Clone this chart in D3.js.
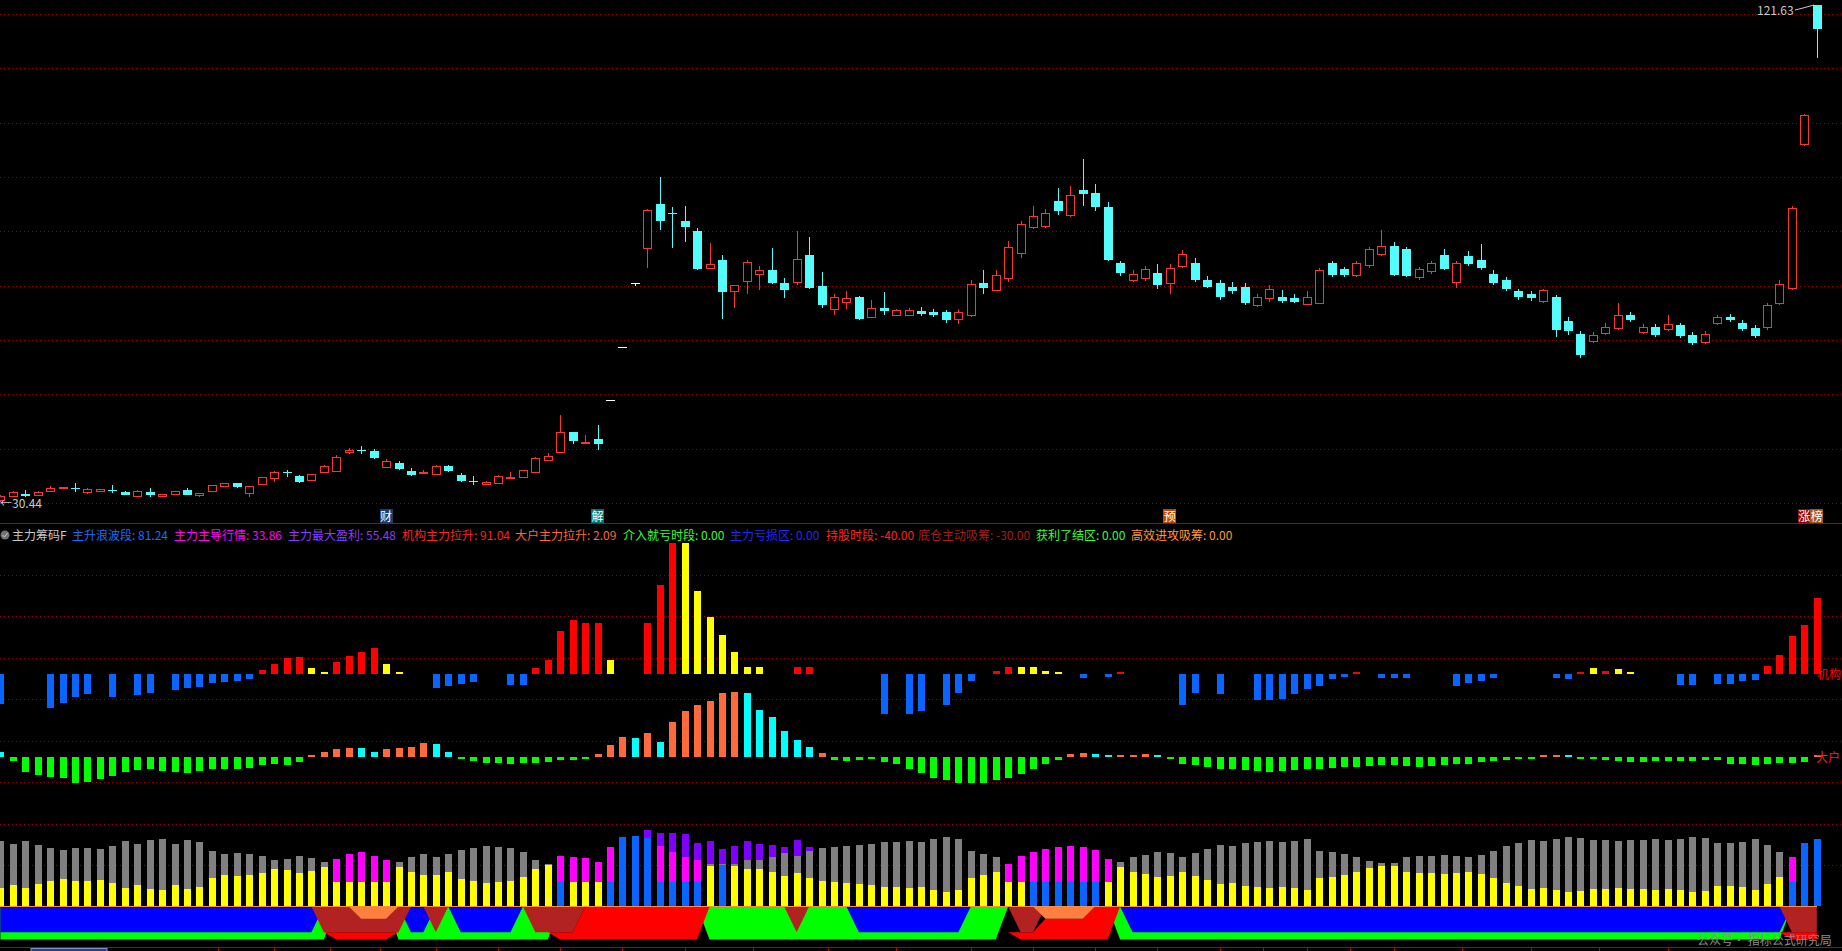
<!DOCTYPE html>
<html>
<head>
<meta charset="utf-8">
<title>主力筹码F</title>
<script src="https://cdn.jsdelivr.net/npm/d3@7.9.0/dist/d3.min.js"></script>
<style>
  html, body { margin: 0; padding: 0; background: #000; overflow: hidden; }
  svg { display: block; font-family: "Noto Sans CJK SC", "Noto Sans", sans-serif; }
</style>
</head>
<body>
<svg id="chart" width="1842" height="951"></svg>
<script>
// ---- price candles (147 bars) ----
const opens = [
  30.80,31.55,31.90,31.72,32.45,33.00,33.00,32.27,32.51,32.69,
  32.32,31.59,32.32,31.48,31.85,32.60,31.59,32.32,33.24,33.86,
  32.03,33.61,34.97,35.88,35.26,34.47,35.99,36.21,39.60,39.97,
  39.79,37.04,37.59,36.21,35.94,35.68,37.00,35.39,34.23,33.86,
  33.98,34.84,35.08,35.99,38.19,39.66,43.28,41.26,42.00,49.10,
  58.82,70.57,76.92,85.12,83.41,82.00,80.16,73.24,74.84,69.10,
  70.86,72.14,73.00,70.62,70.86,75.76,70.07,65.90,67.00,68.05,
  64.25,66.03,64.80,64.78,65.43,65.32,65.21,63.92,64.78,70.60,
  69.31,71.68,75.99,80.95,81.16,85.69,83.10,87.63,87.20,84.61,
  74.26,71.25,71.46,72.54,70.60,73.83,74.26,71.25,70.60,69.95,
  69.95,66.50,67.80,68.01,67.80,66.72,66.93,74.26,73.19,72.11,
  73.83,75.99,77.50,76.85,71.68,72.76,75.77,70.82,75.56,74.91,
  72.33,71.25,69.09,68.66,67.37,68.01,63.70,61.33,60.04,61.55,
  62.41,64.78,61.76,62.62,62.19,62.84,61.11,59.82,63.27,64.35,
  63.27,62.41,62.41,66.93,69.74,96.04,121.63];
const highs = [
  31.72,32.45,32.60,32.45,33.42,33.28,33.92,33.00,32.91,33.55,
  32.45,32.60,32.95,31.96,32.54,32.95,32.08,33.64,34.01,33.92,
  33.46,35.11,36.21,36.40,35.39,35.66,37.22,39.06,40.34,40.71,
  40.16,38.32,37.96,36.67,36.30,37.31,37.22,35.75,35.20,34.38,
  35.39,35.94,36.40,38.69,39.42,46.40,43.37,42.73,44.56,49.10,
  58.82,70.57,84.14,90.07,84.57,84.75,80.71,77.90,75.70,70.25,
  74.79,73.74,77.04,71.54,80.16,79.06,72.64,68.60,69.15,68.23,
  67.50,68.97,65.85,66.07,66.29,65.86,65.64,65.86,71.25,72.97,
  72.97,78.36,82.02,84.83,84.18,88.06,88.49,93.45,88.71,85.47,
  74.70,72.97,73.83,74.05,74.05,76.64,75.13,71.89,71.25,70.82,
  70.60,68.66,70.17,69.31,68.66,69.09,73.40,74.70,73.62,74.70,
  77.28,80.30,78.14,77.28,73.62,74.70,76.85,74.70,76.42,77.71,
  72.97,71.68,69.52,69.09,69.52,68.44,64.35,61.76,61.55,63.27,
  66.93,65.21,63.05,63.05,64.78,63.27,61.55,61.76,64.78,64.99,
  63.92,62.84,66.93,71.25,84.83,101.64,121.63];
const lows = [
  30.44,31.35,31.35,31.55,32.21,32.91,32.32,31.85,32.45,32.03,
  31.66,31.55,31.41,31.41,31.77,31.72,31.29,32.27,33.19,33.09,
  31.29,33.55,34.10,34.97,34.01,34.38,35.94,36.12,39.24,39.24,
  38.32,36.86,36.30,35.20,35.75,35.57,35.94,34.10,33.55,33.73,
  33.92,34.66,34.93,35.75,38.01,39.60,41.13,41.08,40.03,49.10,
  58.82,70.13,73.43,80.35,77.10,78.20,73.00,73.24,64.01,66.03,
  68.60,69.33,70.53,67.87,70.25,69.61,66.09,64.75,65.85,63.83,
  64.25,64.75,64.57,64.56,64.56,64.35,63.27,63.05,64.35,68.66,
  69.09,70.82,75.13,80.52,80.73,83.10,82.67,84.83,83.75,74.70,
  71.89,70.82,71.03,69.52,68.66,73.40,70.82,69.74,67.58,68.66,
  66.50,66.29,67.15,66.93,66.93,66.50,66.72,71.68,71.68,71.68,
  73.40,75.56,71.89,71.68,71.25,72.33,72.97,69.74,73.83,72.97,
  70.17,69.09,67.58,67.37,66.93,60.68,61.11,56.80,59.61,61.11,
  61.98,63.49,61.33,60.68,61.76,60.47,59.17,59.39,62.84,63.49,
  61.76,60.47,61.98,66.50,69.31,95.82,111.96];
const closes = [
  31.55,32.27,31.55,32.27,33.06,33.13,32.89,32.82,32.82,32.54,
  31.77,32.51,31.77,31.90,32.45,31.77,32.03,33.50,33.86,33.13,
  33.37,34.97,35.99,35.70,34.16,35.51,37.04,38.70,39.97,39.79,
  38.50,38.05,36.49,35.39,36.03,37.13,36.07,34.28,34.10,34.16,
  35.20,35.08,36.30,38.50,38.87,43.28,41.63,41.53,41.08,49.10,
  58.82,70.57,83.96,82.00,83.23,80.95,73.19,74.05,68.97,70.20,
  74.42,72.95,70.62,69.33,75.02,69.70,66.58,68.05,67.81,64.01,
  65.98,65.54,65.67,65.64,65.00,64.78,63.92,65.21,70.38,69.74,
  72.11,77.28,81.38,82.89,83.53,83.75,86.77,86.98,84.61,74.91,
  72.54,72.33,73.19,70.17,73.40,75.99,71.25,69.95,68.01,69.09,
  66.93,68.01,69.52,67.37,67.15,68.01,72.97,72.11,72.11,74.26,
  76.85,77.50,72.11,71.89,73.19,74.26,73.19,74.26,74.05,73.40,
  70.60,69.52,68.01,67.80,69.31,61.98,61.76,57.45,61.11,62.62,
  64.78,63.92,62.62,61.11,63.05,60.90,59.61,61.33,64.35,63.92,
  62.19,60.90,66.50,70.38,84.40,101.42,117.23];

// ---- 机构主力拉升 (bars round 0) : B = below zero, R / Y = up colours ----
const jgVals = [
  -36.1,0,0,0,-41.0,-34.9,-27.7,-24.1,0,-27.7,
  0,-25.3,-22.9,0,-19.3,-16.9,-15.7,-10.8,-9.6,-8.4,
  -6.0,4.8,12.0,19.3,20.5,7.2,2.4,14.5,21.7,26.5,
  31.3,12.0,2.4,0,0,-16.9,-14.5,-12.0,-9.6,0,
  0,-13,-12.7,7.1,17,52,65,61,61,17,
  0,0,61,107.5,158,158,100,69,47,27,
  8.5,8.5,0,0,8.5,8.5,0,0,0,0,
  0,-48,0,-48,-45,0,-37,-23,-8,0,
  4,8,8,8,4,2,0,-5,0,-4,
  2,0,0,0,0,-37,-22.6,0,-24,0,
  0,-31,-31,-30,-24,-18,-14,-6,-4,2,
  0,-5,-5,-5,0,0,0,-14,-11,-8,
  -5,0,0,0,0,-5,-6,3,7,4,
  6,3,0,0,0,-13,-13,0,-12,-12,
  -8.4,-7.2,9.6,22.9,45.8,59,91.04];
const jgKind =
  "B---BBBB-B" + "-BB-BBBBBB" + "BRRRRYYRRR" + "RYY--BBBB-" + "-BBRRRRRRY" +
  "--RRRYYYYY" + "YY--RR----" + "-B-BB-BBB-" + "RRYYYY-B-B" + "R----BB-B-" +
  "-BBBBBBBBR" + "-BBB---BBB" + "B----BBRYR" + "YY---BB-BB" + "BBRRRRR";

// ---- 大户主力拉升 (bars round -100) : G down, O / C up ----
const dhVals = [
  6.0,-4.8,-18.1,-21.7,-24.1,-25.3,-31.3,-30.1,-26.5,-22.9,
  -18.1,-15.7,-14.5,-16.9,-18.1,-19.3,-16.9,-14.5,-14.5,-14.5,
  -13.3,-9.6,-8.4,-9.6,-6.0,2.4,6.0,9.6,10.8,10.8,
  6.0,9.6,10.8,12.0,16.9,15.7,6.0,-2.4,-4.8,-7.2,
  -7.2,-8,-7,-7,-6,-4,-4,-3,3.4,14.7,
  24.6,23.2,28.6,17.5,41.6,55.7,62.8,67.1,77,78.4,
  77,57.2,48.7,31.7,20.4,11.9,4.8,-4.2,-5,-4,
  -3,-6,-8,-14,-19,-25,-28,-31,-31,-31,
  -28,-25,-20,-14,-8,-4,4,5,4,3,
  2,3,4,2,-3,-8,-10,-12,-14,-15,
  -16,-17,-18,-17,-16,-15,-14,-13,-12,-12,
  -11,-10,-10,-11,-12,-11,-10,-9,-8,-6,
  -5,-4,-3,-2,2,3,2,-2,-3,-4,
  -5,-6,-6,-5,-5,-5,-5,-3.6,-4.0,-8.4,
  -8.4,-9.6,-8.4,-7.2,-7.2,-6.0,2.09];
const dhKind =
  "CGGGGGGGGG" + "GGGGGGGGGG" + "GGGGGOOOOC" + "COOOOCCGGG" + "GGGGGGGGOO" +
  "OCOCOOOOOO" + "CCCCCCOGGG" + "GGGGGGGGGG" + "GGGGGGOOCC" + "OOOCGGGGGG" +
  "GGGGGGGGGG" + "GGGGGGGGGG" + "GGGGOOCGGG" + "GGGGGGGGGG" + "GGGGGGO";

// ---- stacked chip bars (round -280) ----
const stkBase = [
  21.7,25.3,21.7,26.5,30.1,32.5,30.1,30.1,31.3,27.7,
  21.7,25.3,20.5,19.3,25.3,20.5,22.9,33.7,37.3,36.1,
  37.3,39.8,44.6,43.4,39.8,42.2,47.0,28.9,28.9,28.9,
  28.9,28.9,47.0,41.0,37.3,37.3,41.0,32.5,30.1,27.7,
  28.9,30.1,34.9,44.6,49.4,28.9,28.9,28.9,28.9,28.9,
  83.1,84.3,82.3,28.9,28.9,28.9,28.9,48.2,49.4,48.2,
  44.6,44.6,41.0,36.1,39.8,33.7,30.1,28.9,27.7,26.5,
  25.3,22.9,22.9,21.7,22.9,19.3,16.9,19.3,33.7,37.3,
  41.0,28.9,28.9,28.9,28.9,28.9,28.9,28.9,28.9,28.9,
  47.0,41.0,38.6,34.9,36.1,41.0,36.1,31.3,26.5,27.7,
  24.1,22.9,21.7,22.9,21.7,19.3,33.7,34.9,37.3,41.0,
  45.8,48.2,48.2,41.0,39.8,39.8,38.6,39.8,41.0,38.6,
  33.7,27.7,24.1,20.5,21.7,19.3,16.9,18.1,20.5,20.5,
  21.7,20.5,20.5,19.3,20.5,19.3,16.9,18.1,24.1,24.1,
  22.9,19.3,26.5,34.9,28.9,75.9,81.24];
const stkBaseKind =
  "YYYYYYYYYY" + "YYYYYYYYYY" + "YYYYYYYYYY" + "YYYYYYYYYY" + "YYYYYBYYYB" +
  "BBBBBBBYBY" + "YYYYYYYYYY" + "YYYYYYYYYY" + "YYYBBBBBBY" + "YYYYYYYYYY" +
  "YYYYYYYYYY" + "YYYYYYYYYY" + "YYYYYYYYYY" + "YYYYYYYYYY" + "YYYYBBB";
const stkMid = [
  78.3,74.7,78.3,73.5,69.9,67.5,69.9,69.9,68.7,72.3,
  78.3,74.7,79.5,80.7,74.7,79.5,77.1,66.3,62.7,63.9,
  62.7,60.2,55.4,56.6,60.2,57.8,53.0,56.6,62.7,65.1,
  60.2,55.4,53.0,59.0,62.7,59.0,62.7,67.5,69.9,72.3,
  71.1,69.9,65.1,55.4,50.6,60.2,59.0,57.8,53.0,71.1,
  0,0,0,72.3,65.1,59.0,55.4,51.4,50.6,51.4,
  55.4,55.4,59.0,63.9,60.2,66.3,69.9,71.1,72.3,73.5,
  74.7,77.1,77.1,78.3,77.1,80.7,83.1,80.7,66.3,62.7,
  59.0,50.6,60.2,65.1,68.7,71.1,72.3,71.1,67.5,56.6,
  53.0,59.0,61.4,65.1,63.9,59.0,63.9,68.7,73.5,72.3,
  75.9,77.1,78.3,77.1,78.3,80.7,66.3,65.1,62.7,59.0,
  54.2,51.8,51.8,59.0,60.2,60.2,61.4,60.2,59.0,61.4,
  66.3,72.3,75.9,79.5,78.3,80.7,83.1,81.9,79.5,79.5,
  78.3,79.5,79.5,80.7,79.5,80.7,83.1,81.9,75.9,75.9,
  77.1,80.7,73.5,65.1,59.0,0,0];
const stkMidKind =
  "GGGGGGGGGG" + "GGGGGGGGGG" + "GGGGGGGMMM" + "MMGGGGGGGG" + "GGGGGMMMMM" +
  "---MMMMGGG" + "GGGGGGGGGG" + "GGGGGGGGGG" + "GMMMMMMMMM" + "GGGGGGGGGG" +
  "GGGGGGGGGG" + "GGGGGGGGGG" + "GGGGGGGGGG" + "GGGGGGGGGG" + "GGGGM--";
const stkPurple = [[52,91.6],[53,88.0],[54,88.0],[55,86.7],[56,75.9],[57,78.3],[58,69.5],
  [59,72.3],[60,78.3],[61,75.5],[62,73.5],[63,71.1],[64,79.5],[65,71.1]];

// ---- state band : upper zone / lower zone per bar ----
// B blue, K brown, P orange over brown, Q orange over red, R red, G green, - none
const bandTop =
  "BBBBBBBBBB" + "BBBBBBBBBB" + "BBBBBBKKKP" + "PPKBBKGBBB" + "BBGKKKKRRR" +
  "RRRRRRRGGG" + "GGGGKGGGGB" + "BBBBBBBBGG" + "G-KKQQQQRR" + "GBBBBBBBBB" +
  "BBBBBBBBBB" + "BBBBBBBBBB" + "BBBBBBBBBB" + "BBBBBBBBBB" + "BBBBKKK";
const bandBot =
  "GGGGGGGGGG" + "GGGGGGGGGG" + "GGGGGGGRRR" + "RRGGGGGGGG" + "GGGGGRRRRR" +
  "RRRRRRRGGG" + "GGGGGGGGGG" + "GGGGGGGGGG" + "G-RRRRRRRR" + "GGGGGGGGGG" +
  "GGGGGGGGGG" + "GGGGGGGGGG" + "GGGGGGGGGG" + "GGGGGGGGGG" + "GGGGRRR";

// ---- markers under the candles ----
const markers = [
  {i: 31, t: '财', bg: '#1b3c70'},
  {i: 48, t: '解', bg: '#007575'},
  {i: 94, t: '预', bg: '#b8480c'},
  {i: 145, t: '涨', bg: '#8a0a0a'},
  {i: 146, t: '榜', bg: '#a65418'}];

// ---- legend ----
const legendNames = ['主力筹码F','主升浪波段','主力主导行情','主力最大盈利','机构主力拉升','大户主力拉升',
  '介入就亏时段','主力亏损区','持股时段','底仓主动吸筹','获利了结区','高效进攻吸筹'];
const legendValues = [null,'81.24','33.86','55.48','91.04','2.09','0.00','0.00','-40.00','-30.00','0.00','0.00'];
const legendColors = ['#c8c8c8','#1a6cff','#ff00ff','#8a3cff','#ff2020','#ff6633',
  '#33ff33','#2424ff','#ff2020','#a81c1c','#33ff33','#ff9933'];
const legendX = [12,72,174,288,402,515,623,730,826,918,1036,1131];

// bottom axis ticks, in bar units
const axisTicks = [2.5,8.5,17.5,22,26.5,30.5,35,40,45,50,55,60.5,66.5,72,78,83,88,93,98,101.5,105,108.5,112,117.5,123,128.5,134];

// ---- setup ----
const W = 1842, H = 951, N = opens.length;
const svg = d3.select('#chart');
svg.append('rect').attr('width', W).attr('height', H).attr('fill', '#000');

const x = d3.scaleLinear().domain([0, N - 1]).range([0.4, 1816.8]);
const yP = d3.scaleLinear().domain([30.44, 121.63]).range([502, 5]);
const yL = d3.scaleLinear().domain([0, 100]).range([674, 591]);
const px = i => Math.round(x(i));

// grid
const grid = svg.append('g').attr('stroke', '#9a0000').attr('stroke-dasharray', '1,3')
  .attr('shape-rendering', 'crispEdges');
d3.range(10).forEach(k => {
  const y = Math.round(14 + k * 54.33) + 0.5;
  grid.append('line').attr('x1', 0).attr('x2', W).attr('y1', y).attr('y2', y);
});
d3.range(8).forEach(k => {
  const y = Math.round(575 + k * 41.47) + 0.5;
  grid.append('line').attr('x1', 0).attr('x2', W).attr('y1', y).attr('y2', y);
});

// separators
svg.append('line').attr('x1', 0).attr('x2', W).attr('y1', 523.5).attr('y2', 523.5)
  .attr('stroke', '#c00000').attr('shape-rendering', 'crispEdges');
svg.append('line').attr('x1', 0).attr('x2', W).attr('y1', 947.5).attr('y2', 947.5)
  .attr('stroke', '#c00000').attr('shape-rendering', 'crispEdges');
axisTicks.forEach(t => {
  const xx = Math.round(x(t)) + 0.5;
  svg.append('line').attr('x1', xx).attr('x2', xx).attr('y1', 947).attr('y2', 951)
    .attr('stroke', '#c00000').attr('shape-rendering', 'crispEdges');
});
svg.append('rect').attr('x', 31).attr('y', 948.5).attr('width', 76).attr('height', 6)
  .attr('fill', '#24408a').attr('stroke', '#8090c0');

// ---- candles ----
const UP = '#ff3232', DN = '#54fcfc', FLAT = '#ffffff';
const cg = svg.append('g').attr('shape-rendering', 'crispEdges');
d3.range(N).forEach(i => {
  const o = opens[i], c = closes[i];
  const col = c > o ? UP : c < o ? DN : FLAT;
  const cx = px(i) + 0.5;
  cg.append('line').attr('x1', cx).attr('x2', cx)
    .attr('y1', yP(highs[i])).attr('y2', yP(lows[i])).attr('stroke', col);
  const top = yP(Math.max(o, c)), bot = yP(Math.min(o, c));
  if (c > o) {
    cg.append('rect').attr('x', cx - 4).attr('y', Math.round(top) + 0.5).attr('width', 8)
      .attr('height', Math.max(1, Math.round(bot - top))).attr('fill', '#000').attr('stroke', col);
  } else if (c < o) {
    cg.append('rect').attr('x', cx - 4.5).attr('y', top).attr('width', 9)
      .attr('height', Math.max(1, bot - top)).attr('fill', col);
  } else {
    cg.append('line').attr('x1', cx - 4.5).attr('x2', cx + 4.5)
      .attr('y1', Math.round(top) + 0.5).attr('y2', Math.round(top) + 0.5).attr('stroke', col);
  }
});

// price extremes
svg.append('text').attr('x', 1757).attr('y', 15).attr('fill', '#c8c8c8')
  .attr('font-size', 12).text(d3.max(highs).toFixed(2));
svg.append('polyline').attr('points', `1795,10 1803,8 ${px(N - 1) - 3},${yP(d3.max(highs))}`)
  .attr('fill', 'none').attr('stroke', '#c8c8c8');
svg.append('text').attr('x', 0).attr('y', 507.5).attr('fill', '#c8c8c8')
  .attr('font-size', 12).text('←' + d3.min(lows).toFixed(2));

// markers
markers.forEach(m => {
  const cx = x(m.i);
  svg.append('rect').attr('x', Math.round(cx - 6.5)).attr('y', 509).attr('width', 13).attr('height', 14)
    .attr('fill', m.bg);
  svg.append('text').attr('x', cx).attr('y', 520.5).attr('text-anchor', 'middle')
    .attr('fill', '#ffffff').attr('font-size', 12).text(m.t);
});

// ---- legend ----
svg.append('circle').attr('cx', 5).attr('cy', 535).attr('r', 4.5).attr('fill', '#707070');
svg.append('path').attr('d', 'M2.5,535 L4.5,537 L7.5,533').attr('fill', 'none').attr('stroke', '#d0d0d0');
legendNames.forEach((n, k) => {
  svg.append('text').attr('x', legendX[k]).attr('y', 539.5).attr('font-size', 12)
    .attr('fill', legendColors[k]).text(legendValues[k] === null ? n : n + ': ' + legendValues[k]);
});

// ---- lower bars ----
const barW = 7;
const lg = svg.append('g').attr('shape-rendering', 'crispEdges');
function vbar(i, v0, v1, col) {
  const a = yL(v0), b = yL(v1);
  lg.append('rect').attr('x', px(i) - 3).attr('y', Math.min(a, b)).attr('width', barW)
    .attr('height', Math.max(1, Math.abs(a - b))).attr('fill', col);
}
const jgCol = {R: '#ff0000', Y: '#ffff00'};
jgVals.forEach((v, i) => {
  if (v === 0) return;
  vbar(i, 0, v, v < 0 ? '#0a64ff' : jgCol[jgKind[i]] || '#ff0000');
});
const dhCol = {O: '#ff6a3a', C: '#00ffff'};
dhVals.forEach((v, i) => {
  if (v === 0) return;
  vbar(i, -100, -100 + v, v < 0 ? '#00ff00' : dhCol[dhKind[i]] || '#ff6a3a');
});

const stkCol = {Y: '#ffff00', B: '#0a64ff', G: '#808080', M: '#ff00ff'};
const purpleTop = new Map(stkPurple);
d3.range(N).forEach(i => {
  const base = -280;
  vbar(i, base, base + stkBase[i], stkCol[stkBaseKind[i]]);
  if (stkMid[i] > stkBase[i] && stkMidKind[i] !== '-') {
    vbar(i, base + stkBase[i], base + stkMid[i], stkCol[stkMidKind[i]]);
  }
  if (purpleTop.has(i)) {
    const from = Math.max(stkBase[i], stkMid[i]);
    vbar(i, base + from, base + purpleTop.get(i), '#8000ff');
  }
});

// ---- band ----
const LV = {t: -280, m: -295, l: -311, b: -320};
const bandLayers = [
  ['#00ff00', i => (bandTop[i] === 'G' || bandBot[i] === 'G') ? [LV.t, LV.b] : null],
  ['#ff0000', i => bandTop[i] === 'R' ? [LV.t, LV.b] : bandTop[i] === 'Q' ? [LV.m, LV.b]
                 : bandBot[i] === 'R' ? [LV.l, LV.b] : null],
  ['#0000ff', i => bandTop[i] === 'B' ? [LV.t, LV.l] : null],
  ['#b22222', i => (bandTop[i] === 'K' || bandTop[i] === 'P') ? [LV.t, LV.l] : null],
  ['#ff7f3f', i => (bandTop[i] === 'P' || bandTop[i] === 'Q') ? [LV.t, LV.m] : null]
];
const bandArea = d3.area().x(d => x(d.i)).y0(d => yL(d.a)).y1(d => yL(d.b));
function runsOf(span) {
  const runs = [];
  let cur = null;
  for (let i = 0; i < N; i++) {
    const s = span(i);
    if (s) {
      if (!cur) { cur = []; if (i > 0) cur.push({i: i - 1, a: s[0], b: s[0]}); }
      cur.push({i, a: s[0], b: s[1]});
    } else if (cur) {
      const last = cur[cur.length - 1];
      cur.push({i, a: last.a, b: last.a});
      runs.push(cur); cur = null;
    }
  }
  if (cur) runs.push(cur);
  return runs;
}
const bg = svg.append('g');
bandLayers.forEach(([col, span]) => {
  runsOf(span).forEach(r => bg.append('path').attr('d', bandArea(r)).attr('fill', col));
});
const topY = Math.round(yL(-280)) + 0.5;
svg.append('line').attr('x1', x(0)).attr('x2', x(N - 1)).attr('y1', topY).attr('y2', topY)
  .attr('stroke', '#ff8c40').attr('shape-rendering', 'crispEdges');

// right side labels
svg.append('text').attr('x', 1817).attr('y', 679).attr('fill', '#ff0000').attr('font-size', 12).text('机构');
svg.append('text').attr('x', 1816).attr('y', 762).attr('fill', '#ff2020').attr('font-size', 12).text('大户');

// watermark
svg.append('text').attr('x', 1697).attr('y', 945).attr('fill', '#8c8c8c').attr('font-size', 12)
  .text('公众号· 指标公式研究局');
</script>
</body>
</html>
